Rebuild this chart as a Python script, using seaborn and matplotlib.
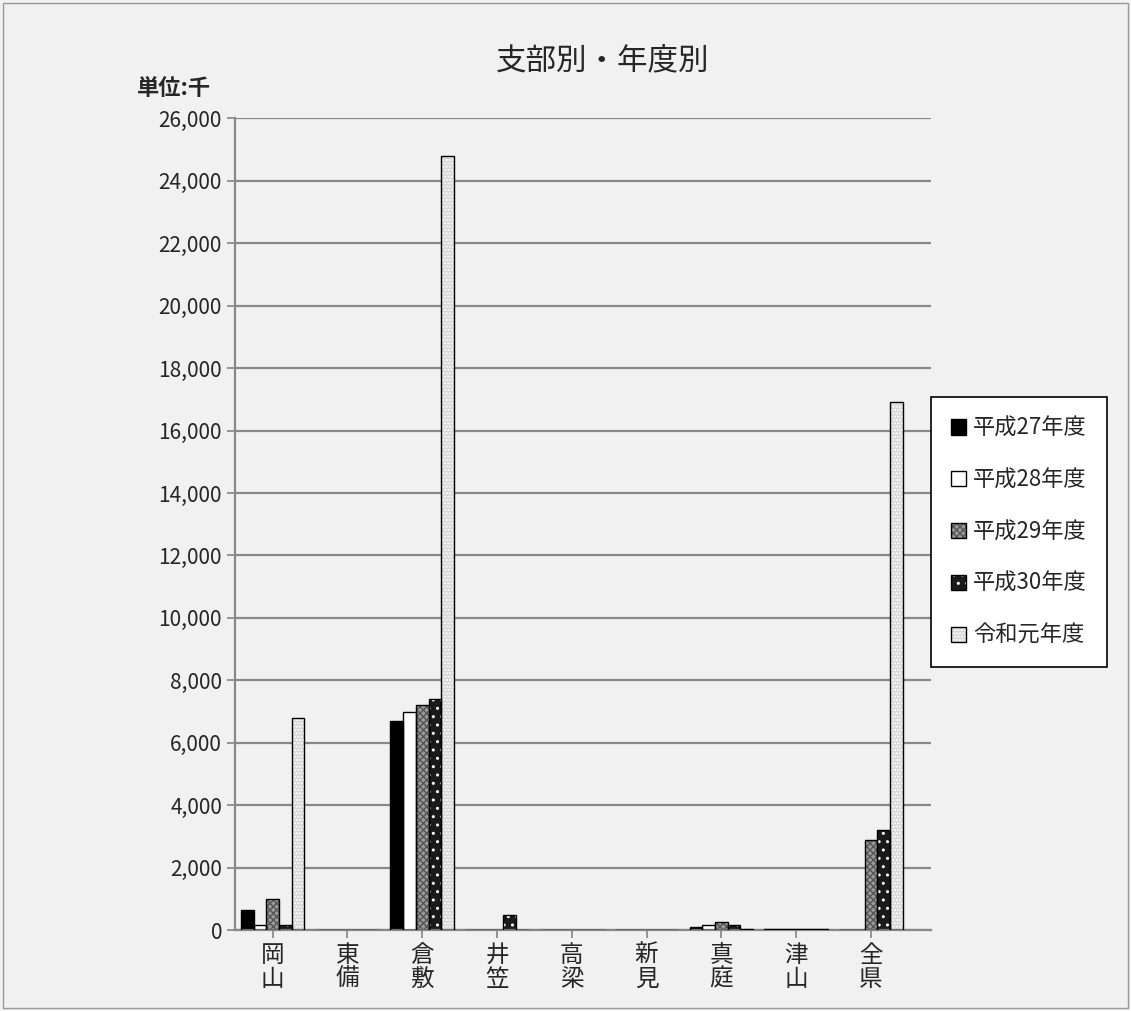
import pandas as pd
import matplotlib.pyplot as plt
import seaborn as sns
from matplotlib.patches import Rectangle
from matplotlib.ticker import FuncFormatter

# data (単位: 千)
branches = ['岡山', '東備', '倉敷', '井笠', '高梁', '新見', '真庭', '津山', '全県']
years = ['平成27年度', '平成28年度', '平成29年度', '平成30年度', '令和元年度']
h27 = [650, 10, 6700, 10, 5, 5, 100, 20, 10]
h28 = [150, 10, 7000, 10, 5, 5, 150, 20, 10]
h29 = [1000, 10, 7200, 10, 5, 5, 250, 30, 2900]
h30 = [150, 10, 7400, 500, 5, 5, 150, 30, 3200]
r01 = [6800, 10, 24800, 10, 5, 5, 50, 20, 16900]

rows = []
for year, vals in zip(years, [h27, h28, h29, h30, r01]):
    for b, v in zip(branches, vals):
        rows.append({'支部': b, '年度': year, '値': v})
df = pd.DataFrame(rows)

sns.set_theme(style='white')
plt.rcParams['font.family'] = ['Noto Sans CJK JP', 'DejaVu Sans']

faces = ['#000000', '#ffffff', '#9a9a9a', '#1a1a1a', '#d8d8d8']
hatches = [None, None, 'xxxxx', '..', '.....']
hatch_cols = ['#000000', '#000000', '#555555', '#ffffff', '#ffffff']

fig = plt.figure(figsize=(11.31, 10.11), dpi=100, facecolor='#f1f1f1')
ax = fig.add_axes([0.208, 0.080, 0.615, 0.803])
ax.set_facecolor('none')

sns.barplot(data=df, x='支部', y='値', hue='年度', palette=faces, width=0.85,
            gap=0, ax=ax, legend=False, saturation=1)

for i, cont in enumerate(ax.containers):
    for p in cont.patches:
        p.set_edgecolor(hatch_cols[i])
        p.set_linewidth(0)
        if hatches[i]:
            p.set_hatch(hatches[i])
        x, y = p.get_xy()
        ax.add_patch(Rectangle((x, y), p.get_width(), p.get_height(),
                               fill=False, edgecolor='black', linewidth=1.0, zorder=3))

ax.set_ylim(0, 26000)
ax.set_xlim(-0.5, 8.8)
ax.set_yticks(range(0, 26001, 2000))
ax.yaxis.set_major_formatter(FuncFormatter(lambda v, _: f'{int(v):,}'))
ax.yaxis.grid(True, color='#888888', linewidth=1.6)
ax.set_axisbelow(True)
ax.set_xticks(range(len(branches)))
ax.set_xticklabels(['\n'.join(b) for b in branches], fontsize=17, linespacing=1.05)
ax.tick_params(axis='y', labelsize=15, length=6, color='#888888', left=True)
ax.tick_params(axis='x', length=6, color='#888888', bottom=True, pad=4)
ax.set_xlabel('')
ax.set_ylabel('')
for s in ['top', 'right']:
    ax.spines[s].set_visible(False)
ax.spines['left'].set_color('#888888')
ax.spines['left'].set_linewidth(1.6)
ax.spines['bottom'].set_color('#888888')
ax.spines['bottom'].set_linewidth(1.6)

fig.text(0.533, 0.940, '支部別・年度別', ha='center', va='center', fontsize=22)
fig.text(0.121, 0.912, '単位:千', ha='left', va='center', fontsize=16, fontweight='bold')

handles = []
for i in range(len(years)):
    handles.append(Rectangle((0, 0), 1, 1, facecolor=faces[i], edgecolor=hatch_cols[i],
                             hatch=hatches[i], linewidth=0))
handles = [(h, Rectangle((0, 0), 1, 1, fill=False, edgecolor='black', linewidth=1)) for h in handles]
leg = fig.legend(handles, years, loc='center left', bbox_to_anchor=(0.823, 0.474),
                 fontsize=16, frameon=True, fancybox=False, edgecolor='black',
                 handlelength=0.7, handleheight=0.7, handletextpad=0.3,
                 labelspacing=1.3, borderpad=0.9, borderaxespad=0,
                 facecolor='white', framealpha=1)
leg.get_frame().set_linewidth(1.2)

fig.add_artist(Rectangle((0.003, 0.003), 0.994, 0.994, transform=fig.transFigure,
                         fill=False, edgecolor='#999999', linewidth=1))

fig.savefig('out.png', dpi=100, facecolor=fig.get_facecolor())
